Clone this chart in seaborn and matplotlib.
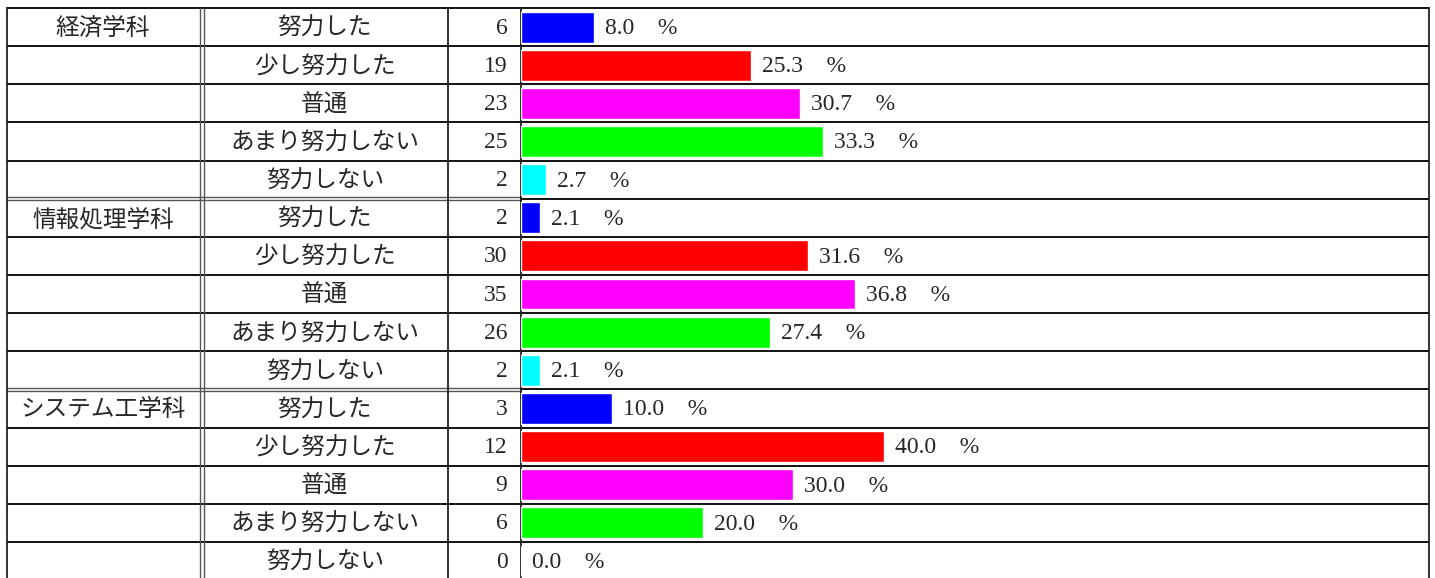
import matplotlib
matplotlib.use('Agg')
import matplotlib.pyplot as plt
import pandas as pd
import seaborn as sns

# 学科ごとの努力度アンケート
depts = ['経済学科', '情報処理学科', 'システム工学科']
levels = ['努力した', '少し努力した', '普通', 'あまり努力しない', '努力しない']
counts = {
    '経済学科': [6, 19, 23, 25, 2],
    '情報処理学科': [2, 30, 35, 26, 2],
    'システム工学科': [3, 12, 9, 6, 0],
}
percents = {
    '経済学科': [8.0, 25.3, 30.7, 33.3, 2.7],
    '情報処理学科': [2.1, 31.6, 36.8, 27.4, 2.1],
    'システム工学科': [10.0, 40.0, 30.0, 20.0, 0.0],
}
level_colors = ['#0000ff', '#ff0000', '#ff00ff', '#00ff00', '#00ffff']

rows = []
for d in depts:
    for lv, c, p in zip(levels, counts[d], percents[d]):
        rows.append({'dept': d, 'level': lv, 'count': c, 'pct': p})
df = pd.DataFrame(rows)
df['row'] = range(len(df))

sns.set_style('white')
plt.rcParams['font.family'] = ['Liberation Serif', 'Noto Sans CJK JP']

W, H = 1435, 578
top = 8
rh = 38.14
x_left, x_dbl, x_cnt, x_bar, x_right = 6.5, 201.5, 448, 520.5, 1428.5

fig = plt.figure(figsize=(W / 100, H / 100), dpi=100)

# 表の枠線と文字
ax_tab = fig.add_axes([0, 0, 1, 1])
ax_tab.set_xlim(0, W)
ax_tab.set_ylim(H, 0)
ax_tab.axis('off')

n = len(df)
for i in range(n + 1):
    y = top + i * rh
    if i % 5 == 0 and 0 < i < n:
        ax_tab.plot([x_left, x_bar], [y - 1.5, y - 1.5], color='#555555', lw=1.0)
        ax_tab.plot([x_left, x_bar], [y + 1.5, y + 1.5], color='#555555', lw=1.0)
        ax_tab.plot([x_bar, x_right], [y, y], color='#111111', lw=1.4)
    else:
        ax_tab.plot([x_left, x_right], [y, y], color='#111111', lw=1.4)

for x in [x_left, x_cnt, x_bar, x_right]:
    ax_tab.plot([x, x], [top, H], color='#222222', lw=1.3)
ax_tab.plot([x_dbl - 2, x_dbl - 2], [top, H], color='#555555', lw=1.0)
ax_tab.plot([x_dbl + 2, x_dbl + 2], [top, H], color='#555555', lw=1.0)

fs_jp = 17
fs_num = 17
for i, r in df.iterrows():
    yc = top + (i + 0.5) * rh
    if i % 5 == 0:
        ax_tab.text((x_left + x_dbl) / 2 - 1, yc + 2, r['dept'], ha='center', va='center', fontsize=fs_jp)
    ax_tab.text((x_dbl + x_cnt) / 2, yc + 2, r['level'], ha='center', va='center', fontsize=fs_jp)
    ax_tab.text(x_bar - 13, yc + 1, str(r['count']), ha='right', va='center', fontsize=fs_num)

# 棒グラフ部分
ax_bar = fig.add_axes([(x_bar + 0.5) / W, 0, (x_right - x_bar - 0.5) / W, (H - top) / H])
sns.barplot(data=df, x='pct', y='row', hue='level', hue_order=levels, palette=level_colors,
            orient='h', dodge=False, width=0.81, legend=False, saturation=1, ax=ax_bar)
ax_bar.set_xlim(0, 100)
ax_bar.set_ylim(-0.5 + (H - top) / rh, -0.5)
ax_bar.axis('off')
for i, r in df.iterrows():
    ax_bar.annotate(f"{r['pct']:.1f}\u3000%", (r['pct'], i), xytext=(8, -1),
                    textcoords='offset points', ha='left', va='center', fontsize=fs_num)

fig.savefig('out.png', dpi=100)
